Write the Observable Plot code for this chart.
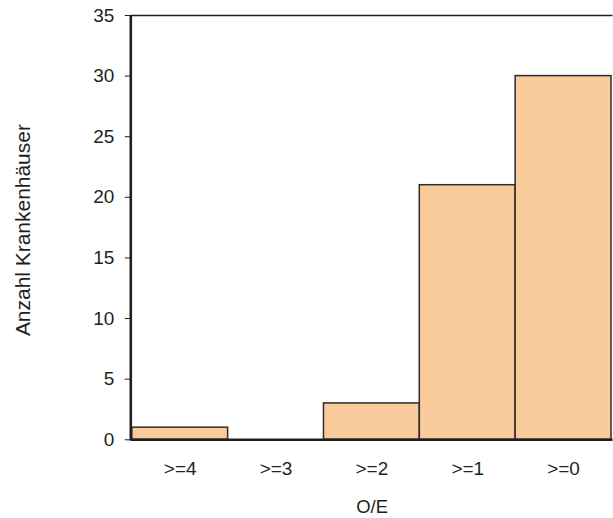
<!DOCTYPE html>
<html>
<head>
<meta charset="utf-8">
<script src="https://cdn.jsdelivr.net/npm/d3@7"></script>
<script src="https://cdn.jsdelivr.net/npm/@observablehq/plot@0.6"></script>
<style>
  html, body { margin: 0; padding: 0; background: #fff; overflow: hidden; }
</style>
</head>
<body>
<div id="chart"></div>
<script>
const categories = [">=4", ">=3", ">=2", ">=1", ">=0"];
const counts = [1, 0, 3, 21, 30];
const yTicks = [0, 5, 10, 15, 20, 25, 30, 35];
const yTitle = "Anzahl Krankenhäuser";
const xTitle = "O/E";

const data = categories.map((c, i) => ({cat: c, n: counts[i]}));
const ink = "#231F20";

const leftLine = (index, scales, values, dims) => {
  const x = dims.marginLeft;
  return d3.create("svg:line")
    .attr("x1", x).attr("x2", x)
    .attr("y1", scales.y(0) + 1.3).attr("y2", scales.y(d3.max(yTicks)))
    .attr("stroke", ink).attr("stroke-width", 2.6)
    .node();
};

const chart = Plot.plot({
  width: 614,
  height: 518,
  marginTop: 15,
  marginBottom: 78,
  marginLeft: 131,
  marginRight: 0.5,
  style: {fontFamily: "'Liberation Sans', Arial, sans-serif", color: ink, background: "#fff"},
  x: {domain: categories, padding: 0, label: null},
  y: {domain: [0, 35], label: null},
  marks: [
    Plot.barY(data, {x: "cat", y: "n", fill: "#F9CB9B", stroke: "#2b2b2b", strokeWidth: 1.5}),
    Plot.ruleY([d3.max(yTicks)], {stroke: ink, strokeWidth: 1.5}),
    Plot.ruleY([0], {stroke: ink, strokeWidth: 2.6}),
    leftLine,
    Plot.axisY({ticks: yTicks, tickSize: 6, tickPadding: 11, fontSize: 19, stroke: ink, fill: ink, label: null}),
    Plot.axisX({tickSize: 0, tickPadding: 22, fontSize: 19, fill: ink, label: null}),
    Plot.text([yTitle], {frameAnchor: "left", dx: -108, dy: 2.5, rotate: -90, fontSize: 21, fill: ink, textAnchor: "middle", lineAnchor: "middle"}),
    Plot.text([xTitle], {frameAnchor: "bottom", dy: 60, fontSize: 18.5, fill: ink, textAnchor: "middle", lineAnchor: "top"})
  ]
});
document.getElementById("chart").appendChild(chart);
</script>
</body>
</html>
